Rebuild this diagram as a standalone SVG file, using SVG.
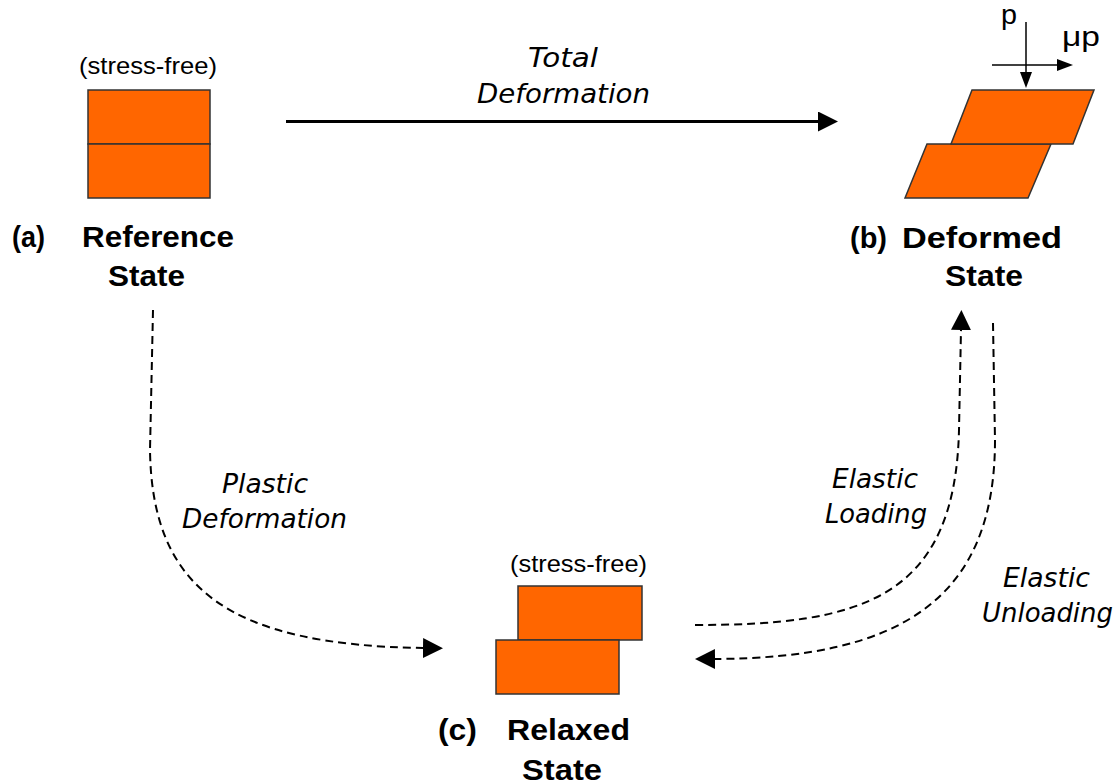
<svg xmlns="http://www.w3.org/2000/svg" width="1119" height="784" viewBox="0 0 1119 784">
<style>
.blk{fill:#FF6600;stroke:#333;stroke-width:1.5}
.lbl{font-family:"Liberation Sans",Arial,sans-serif;font-weight:bold;font-size:30px;fill:#000}
.sf{font-family:"Liberation Sans",Arial,sans-serif;font-size:24px;fill:#000}
.it{font-family:"DejaVu Sans",Verdana,sans-serif;font-style:italic;font-size:27px;fill:#000}
.frc{font-family:"Liberation Sans",Arial,sans-serif;font-size:28px;fill:#000}
.solid{fill:none;stroke:#000;stroke-width:3}
.dash{fill:none;stroke:#000;stroke-width:2;stroke-dasharray:8 5}
.thin{fill:none;stroke:#000;stroke-width:1.5}
</style>
<defs>
<marker id="ah" viewBox="0 0 20 20" refX="0" refY="10" markerWidth="20" markerHeight="20" orient="auto" markerUnits="userSpaceOnUse"><path d="M0,0 L20,10 L0,20 z" fill="#000"/></marker>
<marker id="ahs" viewBox="0 0 16 12" refX="0" refY="6" markerWidth="16" markerHeight="12" orient="auto" markerUnits="userSpaceOnUse"><path d="M0,0 L16,6 L0,12 z" fill="#000"/></marker>
</defs>
<rect width="1119" height="784" fill="#fff"/>
<g id="nodeA">
<text class="sf" x="79" y="74" textLength="138" lengthAdjust="spacingAndGlyphs">(stress-free)</text>
<rect class="blk" x="88" y="90" width="122" height="54"/>
<rect class="blk" x="88" y="144" width="122" height="54"/>
<text class="lbl" x="12" y="247" textLength="33" lengthAdjust="spacingAndGlyphs">(a)</text>
<text class="lbl" x="82" y="247" textLength="152" lengthAdjust="spacingAndGlyphs">Reference</text>
<text class="lbl" x="108" y="286" textLength="77" lengthAdjust="spacingAndGlyphs">State</text>
</g>
<g id="nodeB">
<polygon class="blk" points="927,144 1051,144 1028,198 905,198"/>
<polygon class="blk" points="972,90 1094,90 1073,144 951,144"/>
<line class="thin" x1="1026" y1="22" x2="1026" y2="72" marker-end="url(#ahs)"/>
<line class="thin" x1="992" y1="65" x2="1057" y2="65" marker-end="url(#ahs)"/>
<text class="frc" x="1001" y="24" textLength="16" lengthAdjust="spacingAndGlyphs">p</text>
<text class="frc" x="1062" y="46" textLength="38" lengthAdjust="spacingAndGlyphs">μp</text>
<text class="lbl" x="850" y="248" textLength="37" lengthAdjust="spacingAndGlyphs">(b)</text>
<text class="lbl" x="902" y="248" textLength="160" lengthAdjust="spacingAndGlyphs">Deformed</text>
<text class="lbl" x="945" y="286" textLength="78" lengthAdjust="spacingAndGlyphs">State</text>
</g>
<g id="nodeC">
<text class="sf" x="510" y="572" textLength="137" lengthAdjust="spacingAndGlyphs">(stress-free)</text>
<rect class="blk" x="518" y="586" width="124" height="54"/>
<rect class="blk" x="496" y="640" width="123" height="54"/>
<text class="lbl" x="438" y="740" textLength="39" lengthAdjust="spacingAndGlyphs">(c)</text>
<text class="lbl" x="507" y="740" textLength="123" lengthAdjust="spacingAndGlyphs">Relaxed</text>
<text class="lbl" x="522" y="780" textLength="80" lengthAdjust="spacingAndGlyphs">State</text>
</g>
<g id="connectors">
<line class="solid" x1="286" y1="121.5" x2="818" y2="121.5" marker-end="url(#ah)"/>
<path class="dash" d="M153,310 L150,450 C152,590 230,645 423,648" marker-end="url(#ah)"/>
<path class="dash" d="M695,625 C860,625 955,600 959,430 L961,330" marker-end="url(#ah)"/>
<path class="dash" d="M993,323 L995,440 C995,600 900,658 715,659" marker-end="url(#ah)"/>
</g>
<g id="labels">
<text class="it" x="528" y="67" textLength="70" lengthAdjust="spacingAndGlyphs">Total</text>
<text class="it" x="477" y="103" textLength="173" lengthAdjust="spacingAndGlyphs">Deformation</text>
<text class="it" x="222" y="493" textLength="86" lengthAdjust="spacingAndGlyphs">Plastic</text>
<text class="it" x="182" y="528" textLength="165" lengthAdjust="spacingAndGlyphs">Deformation</text>
<text class="it" x="832" y="488" textLength="86" lengthAdjust="spacingAndGlyphs">Elastic</text>
<text class="it" x="825" y="523" textLength="102" lengthAdjust="spacingAndGlyphs">Loading</text>
<text class="it" x="1003" y="587" textLength="87" lengthAdjust="spacingAndGlyphs">Elastic</text>
<text class="it" x="982" y="622" textLength="131" lengthAdjust="spacingAndGlyphs">Unloading</text>
</g>
</svg>
